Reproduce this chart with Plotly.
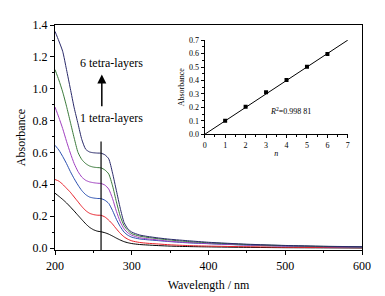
import plotly.graph_objects as go

wavelength = [200, 205, 210, 215, 220, 225, 230, 235, 240, 245, 250, 255, 260, 265, 270, 275, 280, 285, 290, 295, 300,
              310, 320, 335, 350, 375, 400, 450, 500, 550, 600]
abs_1 = [0.344, 0.325, 0.305, 0.283, 0.258, 0.232, 0.205, 0.178, 0.152, 0.130, 0.115, 0.106, 0.102, 0.096, 0.087, 0.075,
         0.062, 0.050, 0.040, 0.033, 0.028, 0.022, 0.019, 0.015, 0.012, 0.009, 0.007, 0.004, 0.002, 0.001, 0.000]
abs_2 = [0.430, 0.420, 0.400, 0.375, 0.350, 0.320, 0.290, 0.260, 0.235, 0.218, 0.210, 0.206, 0.205, 0.195, 0.175, 0.150,
         0.120, 0.092, 0.070, 0.055, 0.045, 0.035, 0.030, 0.025, 0.020, 0.015, 0.012, 0.008, 0.005, 0.003, 0.002]
abs_3 = [0.645, 0.615, 0.575, 0.530, 0.480, 0.435, 0.395, 0.360, 0.335, 0.320, 0.314, 0.311, 0.310, 0.300, 0.280, 0.235,
         0.180, 0.135, 0.100, 0.080, 0.068, 0.057, 0.052, 0.046, 0.040, 0.032, 0.027, 0.018, 0.012, 0.008, 0.005]
abs_4 = [0.885, 0.820, 0.750, 0.670, 0.596, 0.530, 0.480, 0.445, 0.425, 0.415, 0.410, 0.407, 0.405, 0.395, 0.370, 0.310,
         0.230, 0.165, 0.120, 0.095, 0.080, 0.065, 0.058, 0.050, 0.042, 0.034, 0.028, 0.019, 0.013, 0.009, 0.006]
abs_5 = [1.120, 1.055, 0.980, 0.890, 0.790, 0.690, 0.600, 0.555, 0.530, 0.515, 0.508, 0.505, 0.503, 0.490, 0.465, 0.390,
         0.290, 0.200, 0.140, 0.110, 0.090, 0.075, 0.067, 0.058, 0.050, 0.040, 0.033, 0.022, 0.015, 0.010, 0.007]
abs_6 = [1.360, 1.300, 1.235, 1.120, 1.000, 0.880, 0.780, 0.680, 0.620, 0.603, 0.598, 0.596, 0.595, 0.585, 0.560, 0.470,
         0.360, 0.250, 0.160, 0.120, 0.100, 0.082, 0.073, 0.063, 0.055, 0.045, 0.036, 0.024, 0.016, 0.011, 0.008]
series = [abs_1, abs_2, abs_3, abs_4, abs_5, abs_6]
colors = ["#000000", "#e8202a", "#2a4fb0", "#a040c0", "#3a7a3a", "#2a2a6a"]

marker_wl = [260, 260]
marker_abs = [-0.0125, 0.668]

n_layers = [1, 2, 3, 4, 5, 6]
inset_abs = [0.101, 0.205, 0.312, 0.403, 0.502, 0.596]
fit_n = [0, 7]
fit_abs = [0.0, 0.70]

FONT = "Liberation Serif"

fig = go.Figure()
for vals, c in zip(series, colors):
    fig.add_trace(go.Scatter(x=wavelength, y=vals, mode="lines",
                             line=dict(color=c, width=1, shape="spline", smoothing=0.6),
                             showlegend=False, xaxis="x", yaxis="y"))
fig.add_trace(go.Scatter(x=marker_wl, y=marker_abs, mode="lines", line=dict(color="black", width=1.2), showlegend=False))

fig.add_trace(go.Scatter(x=fit_n, y=fit_abs, mode="lines", line=dict(color="black", width=1), showlegend=False,
                         xaxis="x2", yaxis="y2"))
fig.add_trace(go.Scatter(x=n_layers, y=inset_abs, mode="markers", marker=dict(symbol="square", size=4, color="black"),
                         showlegend=False, xaxis="x2", yaxis="y2"))

fig.update_layout(
    width=385, height=296,
    margin=dict(l=55, r=23, t=25, b=46),
    paper_bgcolor="white", plot_bgcolor="white",
    font=dict(family=FONT, size=12, color="black"),
    xaxis=dict(range=[200, 600], domain=[0, 1], showline=True, linecolor="black", linewidth=1.2, mirror=True,
               ticks="outside", ticklen=4, tickwidth=1, tickcolor="black", dtick=100, automargin=False,
               minor=dict(ticks="outside", ticklen=2, dtick=50, tickcolor="black"),
               showgrid=False, zeroline=False,
               title=dict(text="Wavelength / nm", font=dict(size=12), standoff=9),
               tickfont=dict(size=12)),
    yaxis=dict(range=[-0.0125, 1.4], domain=[0, 1], showline=True, linecolor="black", linewidth=1.2, mirror=True,
               ticks="outside", ticklen=4, tickwidth=1, tickcolor="black", dtick=0.2, tickformat=".1f",
               automargin=False,
               minor=dict(ticks="outside", ticklen=2, dtick=0.1, tickcolor="black"),
               showgrid=False, zeroline=False,
               title=dict(text="Absorbance", font=dict(size=12), standoff=4),
               tickfont=dict(size=12)),
    xaxis2=dict(range=[0, 7], domain=[0.4876, 0.954], anchor="y2", showline=True, linecolor="black", linewidth=1,
                ticks="outside", ticklen=3, tickwidth=0.8, tickcolor="black", dtick=1, automargin=False,
                minor=dict(ticks="outside", ticklen=1.5, dtick=0.5, tickcolor="black"),
                showgrid=False, zeroline=False, tickfont=dict(size=8),
                title=dict(text="<i>n</i>", font=dict(size=8), standoff=1)),
    yaxis2=dict(range=[0, 0.7], domain=[0.514, 0.933], anchor="x2", showline=True, linecolor="black", linewidth=1,
                ticks="outside", ticklen=3, tickwidth=0.8, tickcolor="black", dtick=0.1, tickformat=".1f",
                automargin=False,
                minor=dict(ticks="outside", ticklen=1.5, dtick=0.05, tickcolor="black"),
                showgrid=False, zeroline=False, tickfont=dict(size=8),
                title=dict(text="Absorbance", font=dict(size=8), standoff=3)),
)

fig.add_annotation(x=261, y=1.09, ax=261, ay=0.88, xref="x", yref="y", axref="x", ayref="y",
                   showarrow=True, arrowhead=2, arrowsize=1.2, arrowwidth=1.5, arrowcolor="black", text="")
fig.add_annotation(x=274, y=1.16, xref="x", yref="y", text="6 tetra-layers", showarrow=False,
                   font=dict(size=12, family=FONT))
fig.add_annotation(x=274, y=0.815, xref="x", yref="y", text="1 tetra-layers", showarrow=False,
                   font=dict(size=12, family=FONT))
fig.add_annotation(x=4.2, y=0.17, xref="x2", yref="y2", text="<i>R</i><sup>2</sup>=0.998 81", showarrow=False,
                   font=dict(size=8, family=FONT))

fig.write_html("out.html", config={"displayModeBar": False},
               post_script="document.body.style.margin='0';document.body.style.overflow='hidden';")
